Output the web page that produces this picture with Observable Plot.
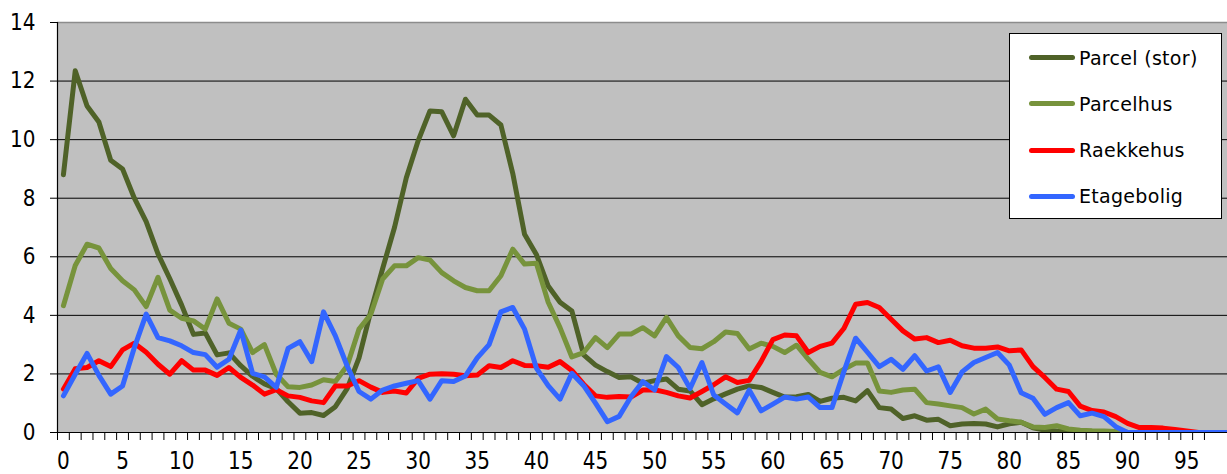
<!DOCTYPE html>
<html>
<head>
<meta charset="utf-8">
<script src="https://cdn.jsdelivr.net/npm/d3@7"></script>
<script src="https://cdn.jsdelivr.net/npm/@observablehq/plot@0.6"></script>
<style>
  html, body { margin: 0; padding: 0; background: #fff; }
  #wrap { position: relative; width: 1227px; height: 474px; overflow: hidden; font-family: "DejaVu Sans", Verdana, sans-serif; }
  #legend { position: absolute; left: 1009px; top: 33px; width: 211px; height: 184px; background: #fff; border: 1.5px solid #000; }
  .entry { position: absolute; left: 0; height: 0; }
  .swatch { position: absolute; left: 19px; width: 46px; height: 5px; border-radius: 3px; top: -2.5px; }
  .lab { position: absolute; left: 69px; top: -12px; font-size: 19px; line-height: 24px; white-space: nowrap; color: #000; letter-spacing: 0.3px; }
</style>
</head>
<body>
<div id="wrap"></div>
<script>
// Categories (x axis) 0..99
const categories = [0,1,2,3,4,5,6,7,8,9,10,11,12,13,14,15,16,17,18,19,20,21,22,23,24,25,26,27,28,29,30,31,32,33,34,35,36,37,38,39,40,41,42,43,44,45,46,47,48,49,50,51,52,53,54,55,56,57,58,59,60,61,62,63,64,65,66,67,68,69,70,71,72,73,74,75,76,77,78,79,80,81,82,83,84,85,86,87,88,89,90,91,92,93,94,95,96,97,98,99];

const seriesNames = ["Parcel (stor)", "Parcelhus", "Raekkehus", "Etagebolig"];
const seriesColors = ["#4f6228", "#77933c", "#ff0000", "#3366ff"];

const parcelStor = [8.8,12.35,11.15,10.6,9.3,9.0,8.0,7.2,6.1,5.25,4.35,3.35,3.4,2.65,2.72,2.28,1.92,1.66,1.5,1.05,0.66,0.68,0.58,0.88,1.5,2.55,4.15,5.6,7.0,8.7,9.96,10.98,10.95,10.13,11.38,10.84,10.84,10.5,8.85,6.77,6.08,5.0,4.45,4.15,2.65,2.3,2.08,1.88,1.9,1.68,1.77,1.83,1.48,1.42,0.95,1.15,1.32,1.48,1.59,1.54,1.37,1.21,1.22,1.3,1.06,1.17,1.2,1.08,1.43,0.85,0.8,0.48,0.57,0.42,0.45,0.23,0.29,0.31,0.29,0.19,0.3,0.35,0.16,0.08,0.05,0.03,0,0,0,0,0,0,0,0,0,0,0,0,0,0];

const parcelhus = [4.33,5.7,6.43,6.3,5.6,5.18,4.87,4.3,5.3,4.18,3.9,3.81,3.53,4.56,3.73,3.53,2.73,3.0,1.99,1.56,1.54,1.62,1.8,1.74,2.28,3.53,4.04,5.24,5.69,5.69,5.97,5.89,5.46,5.18,4.95,4.84,4.84,5.35,6.26,5.75,5.78,4.45,3.58,2.58,2.73,3.24,2.9,3.36,3.36,3.58,3.3,3.93,3.3,2.9,2.86,3.1,3.43,3.38,2.85,3.05,2.94,2.73,2.98,2.5,2.05,1.9,2.16,2.37,2.37,1.42,1.37,1.45,1.48,1.02,0.97,0.91,0.85,0.63,0.8,0.46,0.4,0.35,0.19,0.17,0.23,0.12,0.08,0.06,0.05,0.03,0.01,0,0,0,0,0,0,0,0,0];

const raekkehus = [1.48,2.18,2.22,2.45,2.25,2.82,3.05,2.74,2.33,1.99,2.45,2.13,2.13,1.95,2.22,1.88,1.62,1.31,1.46,1.25,1.2,1.08,1.02,1.59,1.59,1.77,1.55,1.37,1.42,1.35,1.85,1.99,2.01,1.99,1.94,1.96,2.28,2.22,2.45,2.29,2.28,2.23,2.42,2.12,1.65,1.25,1.2,1.23,1.21,1.45,1.46,1.37,1.25,1.18,1.4,1.63,1.9,1.71,1.78,2.42,3.17,3.33,3.3,2.73,2.94,3.05,3.55,4.38,4.44,4.27,3.87,3.47,3.19,3.24,3.07,3.15,2.96,2.88,2.88,2.92,2.79,2.82,2.25,1.88,1.48,1.4,0.9,0.75,0.7,0.54,0.31,0.17,0.17,0.15,0.1,0.05,0,0,0,0];

const etagebolig = [1.25,1.99,2.7,1.95,1.31,1.59,2.9,4.04,3.24,3.13,2.96,2.73,2.66,2.23,2.5,3.5,2.02,1.9,1.54,2.87,3.1,2.42,4.12,3.3,2.27,1.4,1.14,1.45,1.59,1.68,1.77,1.14,1.77,1.74,1.93,2.55,3.0,4.12,4.27,3.53,2.2,1.6,1.14,2.02,1.6,1.0,0.37,0.55,1.22,1.74,1.45,2.59,2.22,1.5,2.39,1.28,0.97,0.67,1.45,0.74,0.97,1.21,1.14,1.21,0.85,0.85,2.07,3.22,2.74,2.25,2.5,2.16,2.62,2.1,2.24,1.37,2.07,2.39,2.56,2.73,2.3,1.36,1.17,0.62,0.85,1.02,0.57,0.66,0.54,0.2,0,0,0,0,0,0,0,0,0,0];

const yTicks = [0,2,4,6,8,10,12,14];
const gridValues = [2,4,6,8,10,12];
const xTickLabels = [0,5,10,15,20,25,30,35,40,45,50,55,60,65,70,75,80,85,90,95];
const categoryBoundaries = categories.slice(0, 98).map(c => c - 0.5);

const seriesValues = [parcelStor, parcelhus, raekkehus, etagebolig];
const table = seriesNames.flatMap((name, s) =>
  categories.map((c, i) => ({series: name, x: c, y: seriesValues[s][i]}))
);

const chart = Plot.plot({
  width: 1227,
  height: 474,
  marginLeft: 57,
  marginRight: 0,
  marginTop: 22,
  marginBottom: 42,
  style: {fontFamily: "'DejaVu Sans', Verdana, sans-serif", fontSize: "20px", color: "#000", background: "transparent", overflow: "visible"},
  x: {type: "linear", domain: [-0.5, 98.45]},
  y: {domain: [0, 14]},
  color: {domain: seriesNames, range: seriesColors},
  marks: [
    Plot.frame({fill: "#c0c0c0", stroke: null}),
    Plot.ruleY(gridValues, {stroke: "#000", strokeWidth: 1}),
    Plot.ruleY([14], {stroke: "#8c8c8c", strokeWidth: 1.5}),
    Plot.line(table, {x: "x", y: "y", z: "series", stroke: "series", strokeWidth: 5, strokeLinejoin: "round", strokeLinecap: "round", clip: true}),
    Plot.ruleY([0], {stroke: "#000", strokeWidth: 1.2}),
    Plot.ruleX([-0.5], {stroke: "#000", strokeWidth: 1.2}),
    Plot.axisY({ticks: yTicks, tickSize: 7, tickPadding: 15, tickFormat: d => String(d), label: null, stroke: "#000"}),
    Plot.axisX({ticks: categoryBoundaries, tickSize: 8, tickFormat: () => "", label: null, stroke: "#000"}),
    Plot.axisX({ticks: xTickLabels, tickSize: 0, tickPadding: 18, tickFormat: d => String(d), label: null})
  ]
});

// Stretch tick label glyphs vertically a little, like the original rendering
d3.select(chart).selectAll('g[aria-label="x-axis tick label"] text').each(function() {
  const t = this.getAttribute("transform") || "";
  this.setAttribute("transform", t + " scale(1,1.28)");
});
d3.select(chart).selectAll('g[aria-label="y-axis tick label"] text').each(function() {
  const t = this.getAttribute("transform") || "";
  this.setAttribute("transform", t + " scale(1,1.15)");
});

const wrap = document.getElementById("wrap");
wrap.appendChild(chart);

// Legend (HTML, placed over the plot area)
const legend = document.createElement("div");
legend.id = "legend";
const rowY = [23.5, 69.5, 116, 162];
seriesNames.forEach((name, i) => {
  const e = document.createElement("div");
  e.className = "entry";
  e.style.top = rowY[i] + "px";
  const sw = document.createElement("div");
  sw.className = "swatch";
  sw.style.background = seriesColors[i];
  const lb = document.createElement("div");
  lb.className = "lab";
  lb.textContent = name;
  e.appendChild(sw);
  e.appendChild(lb);
  legend.appendChild(e);
});
wrap.appendChild(legend);
</script>
</body>
</html>
